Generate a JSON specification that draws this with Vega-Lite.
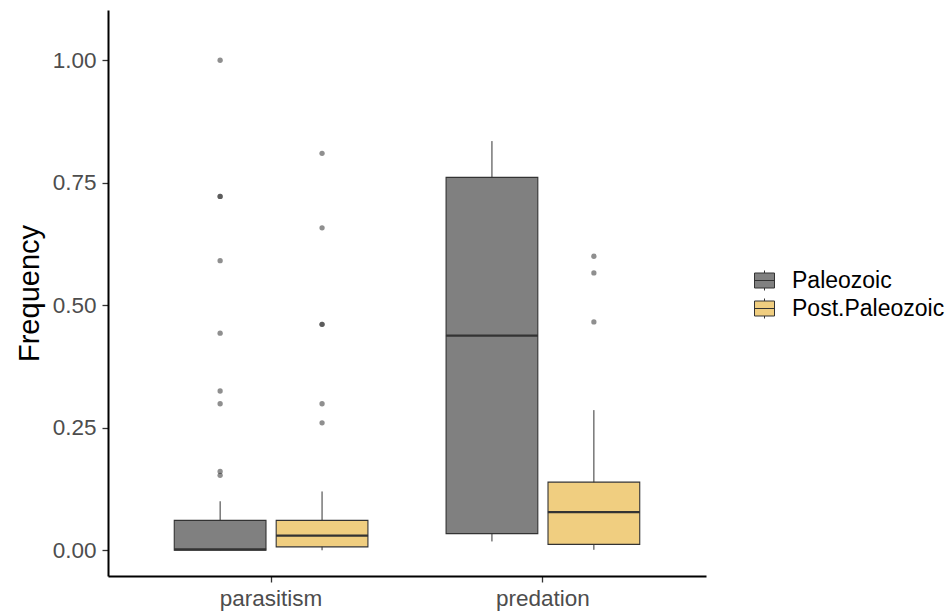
{
  "$schema": "https://vega.github.io/schema/vega-lite/v6.json",
  "width": 598,
  "height": 566,
  "autosize": "none",
  "padding": {"left": 108, "top": 10, "right": 240, "bottom": 39},
  "background": "white",
  "config": {
    "view": {"stroke": null},
    "font": "Liberation Sans",
    "axis": {"grid": false, "domainColor": "black", "domainWidth": 2, "tickColor": "#333333", "tickWidth": 1.3, "tickSize": 6, "labelColor": "#4D4D4D", "labelFontSize": 22.5, "labelFont": "Liberation Sans", "titleFont": "Liberation Sans", "titleColor": "black", "titleFontWeight": "normal"},
    "legend": {"labelFont": "Liberation Sans", "labelFontSize": 23, "labelColor": "black"}
  },
  "datasets": {
    "boxes": [
      {"interaction": "parasitism", "era": "Paleozoic", "lower": 0.0, "q1": 0.0, "median": 0.002, "q3": 0.061, "upper": 0.10},
      {"interaction": "parasitism", "era": "Post.Paleozoic", "lower": 0.0, "q1": 0.007, "median": 0.030, "q3": 0.061, "upper": 0.120},
      {"interaction": "predation", "era": "Paleozoic", "lower": 0.018, "q1": 0.034, "median": 0.438, "q3": 0.761, "upper": 0.835},
      {"interaction": "predation", "era": "Post.Paleozoic", "lower": 0.001, "q1": 0.012, "median": 0.078, "q3": 0.139, "upper": 0.286}
    ],
    "outliers": [
      {"interaction": "parasitism", "era": "Paleozoic", "value": 1.0},
      {"interaction": "parasitism", "era": "Paleozoic", "value": 0.722},
      {"interaction": "parasitism", "era": "Paleozoic", "value": 0.722},
      {"interaction": "parasitism", "era": "Paleozoic", "value": 0.591},
      {"interaction": "parasitism", "era": "Paleozoic", "value": 0.443},
      {"interaction": "parasitism", "era": "Paleozoic", "value": 0.325},
      {"interaction": "parasitism", "era": "Paleozoic", "value": 0.299},
      {"interaction": "parasitism", "era": "Paleozoic", "value": 0.161},
      {"interaction": "parasitism", "era": "Paleozoic", "value": 0.153},
      {"interaction": "parasitism", "era": "Post.Paleozoic", "value": 0.810},
      {"interaction": "parasitism", "era": "Post.Paleozoic", "value": 0.658},
      {"interaction": "parasitism", "era": "Post.Paleozoic", "value": 0.461},
      {"interaction": "parasitism", "era": "Post.Paleozoic", "value": 0.461},
      {"interaction": "parasitism", "era": "Post.Paleozoic", "value": 0.299},
      {"interaction": "parasitism", "era": "Post.Paleozoic", "value": 0.260},
      {"interaction": "predation", "era": "Post.Paleozoic", "value": 0.600},
      {"interaction": "predation", "era": "Post.Paleozoic", "value": 0.566},
      {"interaction": "predation", "era": "Post.Paleozoic", "value": 0.466}
    ]
  },
  "encoding": {
    "x": {
      "field": "interaction", "type": "nominal",
      "scale": {"paddingInner": 0.25, "paddingOuter": 0.225},
      "axis": {"title": null, "labelAngle": 0, "labelPadding": 5, "labelBaseline": "top"}
    },
    "xOffset": {
      "field": "era", "type": "nominal",
      "scale": {"paddingInner": 0.1, "paddingOuter": 0.05}
    }
  },
  "layer": [
    {
      "data": {"name": "boxes"},
      "mark": {"type": "rule", "color": "#333333", "strokeWidth": 1},
      "encoding": {
        "y": {
          "field": "lower", "type": "quantitative",
          "scale": {"domain": [-0.0525, 1.1025], "nice": false, "zero": false},
          "axis": {"title": "Frequency", "titleFontSize": 29, "titlePadding": 8, "values": [0, 0.25, 0.5, 0.75, 1], "format": ".2f", "labelPadding": 6}
        },
        "y2": {"field": "upper"}
      }
    },
    {
      "data": {"name": "boxes"},
      "mark": {"type": "bar", "stroke": "#333333", "strokeWidth": 1.1, "opacity": 1},
      "encoding": {
        "y": {"field": "q1", "type": "quantitative"},
        "y2": {"field": "q3"},
        "fill": {
          "field": "era", "type": "nominal",
          "scale": {"domain": ["Paleozoic", "Post.Paleozoic"], "range": ["#808080", "#F0CE80"]},
          "legend": {
            "title": null, "orient": "none", "legendX": 645, "legendY": 259,
            "symbolType": "M-1,-0.75H1V0.75H-1Z M-1,0H1 M0,-0.75V-1 M0,0.75V1",
            "symbolSize": 400, "symbolStrokeColor": "#333333", "symbolStrokeWidth": 1,
            "symbolOpacity": 1,
            "labelOffset": 16, "rowPadding": 3, "padding": 0
          }
        }
      }
    },
    {
      "data": {"name": "boxes"},
      "mark": {"type": "tick", "color": "#333333", "opacity": 1, "thickness": 2.2, "size": 92, "orient": "horizontal"},
      "encoding": {
        "y": {"field": "median", "type": "quantitative"}
      }
    },
    {
      "data": {"name": "outliers"},
      "mark": {"type": "point", "filled": true, "color": "#333333", "opacity": 0.55, "size": 28},
      "encoding": {
        "y": {"field": "value", "type": "quantitative"}
      }
    }
  ]
}
